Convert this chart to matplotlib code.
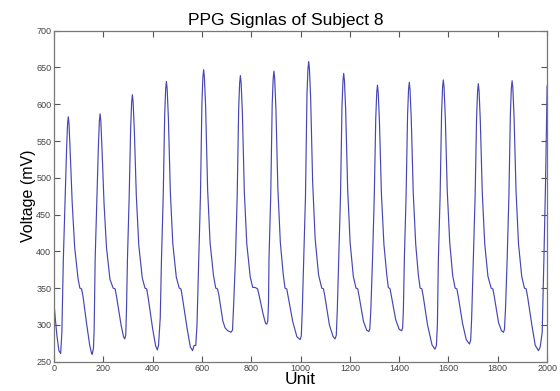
import matplotlib
matplotlib.use("Agg")
import matplotlib.pyplot as plt

# Key points (Unit, Voltage mV)
unit = [
    0, 5, 12, 20,
    27, 32, 38, 45, 51, 55, 58, 61, 66, 74, 84, 98, 105, 112, 118, 133, 145, 152, 155, 160,
    163, 167, 174, 180, 184, 187, 190, 195, 203, 213, 227, 240, 248, 254, 272, 282, 287, 291,
    294, 298, 305, 311, 315, 318, 321, 326, 334, 344, 358, 369, 376, 382, 400, 412, 419, 424,
    431, 436, 443, 449, 453, 456, 459, 464, 472, 482, 496, 508, 515, 521, 540, 553, 562, 568,
    575, 580, 587, 594, 600, 604, 607, 610, 615, 623, 633, 647, 656, 663, 669, 685, 694, 705, 718, 724,
    729, 736, 743, 749, 753, 756, 759, 764, 772, 782, 796, 806, 815, 826, 832, 848, 858, 863, 867,
    870, 872, 879, 885, 889, 892, 895, 900, 908, 918, 930, 937, 944, 950, 968, 985, 998, 1003,
    1007, 1013, 1020, 1026, 1030, 1033, 1036, 1041, 1049, 1059, 1073, 1086, 1093, 1099, 1117, 1132, 1140, 1145,
    1149, 1155, 1162, 1168, 1172, 1175, 1178, 1183, 1191, 1201, 1214, 1225, 1232, 1238, 1255, 1268, 1277, 1281,
    1285, 1292, 1299, 1305, 1309, 1312, 1315, 1320, 1328, 1338, 1350, 1356, 1363, 1369, 1386, 1400, 1410, 1414,
    1417, 1421, 1428, 1434, 1438, 1441, 1444, 1449, 1457, 1467, 1478, 1485, 1492, 1498, 1515, 1533, 1545, 1551,
    1555, 1559, 1566, 1572, 1576, 1579, 1582, 1587, 1595, 1605, 1617, 1627, 1634, 1640, 1657, 1672, 1685, 1690,
    1694, 1701, 1708, 1714, 1718, 1721, 1724, 1729, 1737, 1747, 1760, 1773, 1780, 1786, 1803, 1815, 1823, 1827,
    1831, 1838, 1845, 1851, 1855, 1858, 1861, 1866, 1874, 1884, 1897, 1908, 1915, 1921, 1938, 1952, 1965, 1972,
    1980, 1987, 1994, 2000,
]
voltage = [
    330, 310, 285, 265,
    261, 290, 390, 470, 538, 573, 583, 573, 533, 465, 405, 362, 350, 349, 338, 300, 272, 262, 260, 268,
    295, 390, 470, 542, 577, 587, 577, 537, 465, 405, 362, 350, 349, 338, 300, 284, 281, 286,
    320, 390, 475, 568, 603, 613, 603, 563, 475, 408, 364, 350, 349, 337, 295, 272, 266, 272,
    310, 390, 475, 586, 621, 631, 621, 581, 480, 410, 365, 350, 349, 337, 295, 270, 265, 272,
    272, 300, 390, 475, 602, 637, 647, 637, 597, 485, 412, 367, 350, 349, 340, 305, 296, 292, 290, 293,
    330, 390, 475, 594, 629, 639, 629, 589, 480, 410, 365, 351, 351, 349, 340, 315, 302, 301, 305,
    330, 390, 475, 600, 635, 645, 635, 595, 485, 412, 368, 350, 349, 338, 305, 284, 280, 285,
    320, 390, 475, 613, 648, 658, 648, 608, 495, 418, 368, 350, 349, 338, 300, 284, 281, 286,
    320, 390, 475, 597, 632, 642, 632, 592, 485, 412, 366, 350, 349, 338, 305, 293, 291, 295,
    320, 390, 475, 581, 616, 626, 616, 576, 478, 410, 367, 351, 349, 338, 307, 294, 292, 296,
    320, 390, 475, 585, 620, 630, 620, 580, 480, 410, 367, 350, 349, 338, 300, 273, 267, 272,
    300, 390, 475, 588, 623, 633, 623, 583, 482, 412, 367, 350, 349, 338, 302, 280, 274, 279,
    310, 390, 475, 583, 618, 628, 618, 578, 480, 410, 366, 350, 349, 338, 303, 292, 290, 294,
    320, 390, 475, 587, 622, 632, 622, 582, 482, 410, 366, 350, 349, 338, 300, 272, 265, 270,
    290, 390, 500, 625,
]

x_ticks = list(range(0, 2001, 200))
y_ticks = list(range(250, 701, 50))

plt.rcParams['font.family'] = ['Liberation Sans', 'DejaVu Sans']

fig = plt.figure(figsize=(5.6, 3.91), dpi=100)
ax = fig.add_axes([0.0964, 0.075, 0.8806, 0.8465])
ax.plot(unit, voltage, color='#4646b4', lw=0.85)

ax.set_xlim(0, 2000)
ax.set_ylim(250, 700)
ax.set_xticks(x_ticks)
ax.set_yticks(y_ticks)
ax.tick_params(direction='in', length=4, width=0.8, top=True, right=True,
               labelsize=6.5, colors='#555555', labelcolor='#444444', pad=2)
for s in ax.spines.values():
    s.set_color('#777777')
    s.set_linewidth(0.9)

ax.set_title('PPG Signlas of Subject 8', fontsize=12.5, pad=4, x=0.47)
ax.set_xlabel('Unit', fontsize=12.5, labelpad=-1)
ax.set_ylabel('Voltage (mV)', fontsize=11.5, labelpad=0)

fig.savefig('out.png', dpi=100, facecolor='white')
